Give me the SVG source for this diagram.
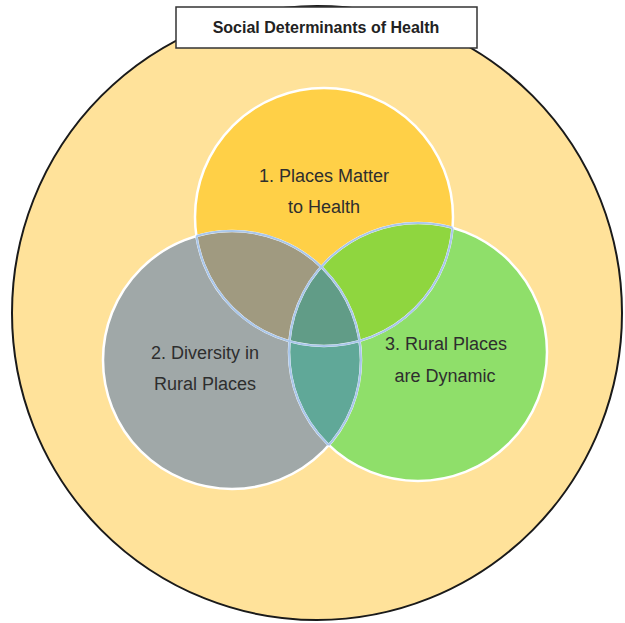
<svg xmlns="http://www.w3.org/2000/svg" width="625" height="623" viewBox="0 0 625 623">
  <style>
    .label { font-family: "Liberation Sans", Arial, sans-serif; font-size: 18px; fill: #2e2e2e; text-anchor: middle; }
    .title { font-family: "Liberation Sans", Arial, sans-serif; font-size: 16px; font-weight: bold; fill: #222222; text-anchor: middle; }
    .rim { fill: none; stroke: #ffffff; stroke-width: 2.5; }
    .seam { fill: none; stroke: #a9c6ea; stroke-width: 2; }
  </style>
  <defs>
    <clipPath id="in1"><circle cx="324" cy="217" r="129"/></clipPath>
    <clipPath id="in2"><circle cx="232" cy="360" r="129"/></clipPath>
    <clipPath id="in3"><circle cx="418" cy="352" r="129"/></clipPath>
    <clipPath id="not1"><circle cx="232" cy="360" r="129"/><circle cx="418" cy="352" r="129"/></clipPath>
    <clipPath id="not2"><circle cx="324" cy="217" r="129"/><circle cx="418" cy="352" r="129"/></clipPath>
    <clipPath id="not3"><circle cx="324" cy="217" r="129"/><circle cx="232" cy="360" r="129"/></clipPath>
  </defs>

  <!-- outer frame: social determinants -->
  <g id="outer">
    <ellipse cx="317" cy="313" rx="305" ry="307" fill="#ffe29a" stroke="#1a1a1a" stroke-width="2"/>
  </g>

  <g id="title">
    <rect x="176" y="7" width="301" height="41" fill="#ffffff" stroke="#333333" stroke-width="1.5"/>
    <text class="title" x="326" y="33">Social Determinants of Health</text>
  </g>

  <!-- three overlapping circles -->
  <g id="circle1">
    <circle cx="324" cy="217" r="129" fill="#ffd047"/>
  </g>
  <g id="circle2">
    <circle cx="232" cy="360" r="129" fill="#a0a8a8"/>
  </g>
  <g id="circle3">
    <circle cx="418" cy="352" r="129" fill="#8fdf6a"/>
  </g>

  <!-- overlap regions -->
  <g id="overlaps">
    <g clip-path="url(#in1)"><circle cx="232" cy="360" r="129" fill="#a09a80"/></g>
    <g clip-path="url(#in1)"><circle cx="418" cy="352" r="129" fill="#8fd63f"/></g>
    <g clip-path="url(#in2)"><circle cx="418" cy="352" r="129" fill="#60a898"/></g>
    <g clip-path="url(#in1)"><g clip-path="url(#in2)"><circle cx="418" cy="352" r="129" fill="#619c87"/></g></g>
  </g>

  <!-- outlines: white rims, bluish seams inside neighbours -->
  <g id="outlines">
    <circle class="rim" cx="324" cy="217" r="129"/>
    <circle class="rim" cx="232" cy="360" r="129"/>
    <circle class="rim" cx="418" cy="352" r="129"/>
    <g clip-path="url(#not1)"><circle class="seam" cx="324" cy="217" r="129"/></g>
    <g clip-path="url(#not2)"><circle class="seam" cx="232" cy="360" r="129"/></g>
    <g clip-path="url(#not3)"><circle class="seam" cx="418" cy="352" r="129"/></g>
  </g>

  <g id="labels">
    <text class="label" x="324" y="182">1. Places Matter</text>
    <text class="label" x="324" y="213">to Health</text>
    <text class="label" x="205" y="359">2. Diversity in</text>
    <text class="label" x="205" y="390">Rural Places</text>
    <text class="label" x="446" y="350">3. Rural Places</text>
    <text class="label" x="445" y="382">are Dynamic</text>
  </g>
</svg>
